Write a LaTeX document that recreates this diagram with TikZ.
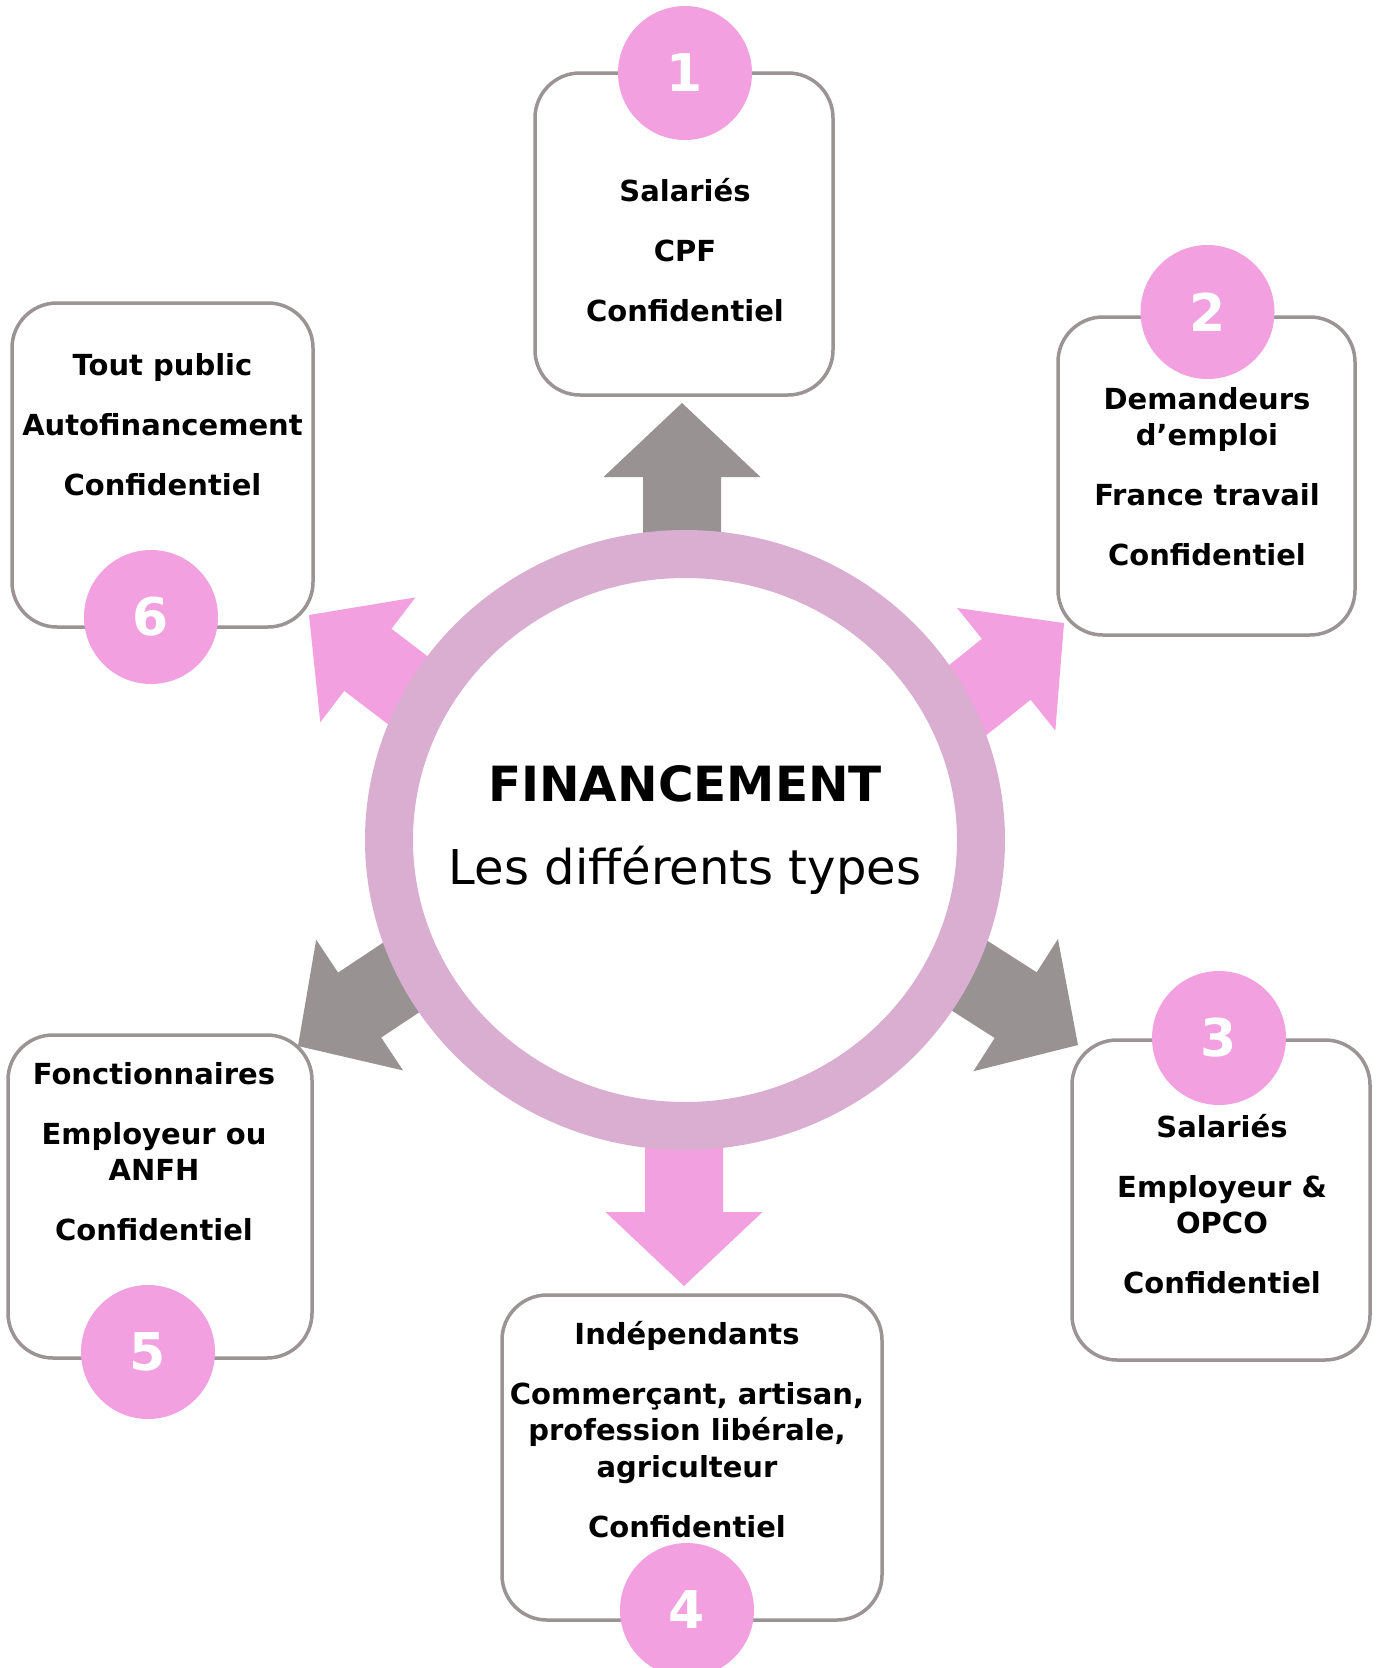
\documentclass[tikz,border=0pt]{standalone}
\usepackage{fontspec}
\setmainfont{DejaVu Sans}
\usepackage{tikz}
\usetikzlibrary{shapes.geometric}

\definecolor{rosefill}{HTML}{F2A0E0}
\definecolor{ringcol}{HTML}{DAAED0}
\definecolor{arrowgray}{HTML}{989292}
\definecolor{cardline}{HTML}{9A9494}

\begin{document}
\begin{tikzpicture}[x=1pt, y=1pt]
\tikzstyle{card} = [draw=cardline, line width=3.5pt, rounded corners=45pt, fill=white, inner sep=0]
\tikzstyle{num} = [circle, fill=rosefill, minimum size=134pt, inner sep=0, text=white, font=\bfseries\fontsize{52}{52}\selectfont]
\tikzstyle{txt} = [align=center, font=\bfseries\fontsize{29}{36.5}\selectfont]

\useasboundingbox (0,0) rectangle (1380,-1668);

% big arrows, under the ring
\foreach \x/\y/\a/\c in {682/403/90/arrowgray, 1064/623/38.7/rosefill, 1078/1045/-32.6/arrowgray,
                          684/1286/-90/rosefill, 298/1046/213.6/arrowgray, 309/615/142.7/rosefill}
  \fill[\c, shift={(\x,-\y)}, rotate=\a] (0,0) -- (-74,78.5) -- (-74,39) -- (-180,39)
        -- (-180,-39) -- (-74,-39) -- (-74,-78.5) -- cycle;

\node (hub) [ellipse, fill=white, draw=ringcol, line width=48pt, minimum width=592, minimum height=572] at (685,-840) {};
\node (title) [anchor=base, font=\bfseries\fontsize{48.5}{48.5}\selectfont] at (685,-801) {FINANCEMENT};
\node (subtitle) [anchor=base, font=\fontsize{48}{48}\selectfont] at (685,-884) {Les différents types};

% cards
\node (card1) [card, minimum width=298, minimum height=322] at (684,-234) {};
\node (card2) [card, minimum width=297, minimum height=318] at (1206.5,-476) {};
\node (card3) [card, minimum width=298, minimum height=320] at (1221,-1200) {};
\node (card4) [card, minimum width=380, minimum height=325] at (692,-1457.5) {};
\node (card5) [card, minimum width=304, minimum height=323] at (160,-1196.5) {};
\node (card6) [card, minimum width=301, minimum height=324] at (162.5,-465) {};

\node (n1) [num] at (685,-73) {1};
\node (n2) [num] at (1207.5,-312) {2};
\node (n3) [num] at (1219,-1038) {3};
\node (n4) [num] at (687,-1610) {4};
\node (n5) [num] at (148,-1352) {5};
\node (n6) [num] at (151,-617) {6};

\node (t1) [txt] at (685,-250) {Salariés\\[23.5pt] CPF\\[23.5pt] Confidentiel};
\node (t2) [txt] at (1207,-476.5) {Demandeurs\\ d’emploi\\[23.5pt] France travail\\[23.5pt] Confidentiel};
\node (t3) [txt] at (1222,-1204) {Salariés\\[23.5pt] Employeur \&\\ OPCO\\[23.5pt] Confidentiel};
\node (t4) [txt] at (687,-1429.5) {Indépendants\\[23.5pt] Commerçant, artisan,\\ profession libérale,\\ agriculteur\\[23.5pt] Confidentiel};
\node (t5) [txt] at (154,-1151.5) {Fonctionnaires\\[23.5pt] Employeur ou\\ ANFH\\[23.5pt] Confidentiel};
\node (t6) [txt] at (162.5,-425) {Tout public\\[23.5pt] Autofinancement\\[23.5pt] Confidentiel};
\end{tikzpicture}
\end{document}
